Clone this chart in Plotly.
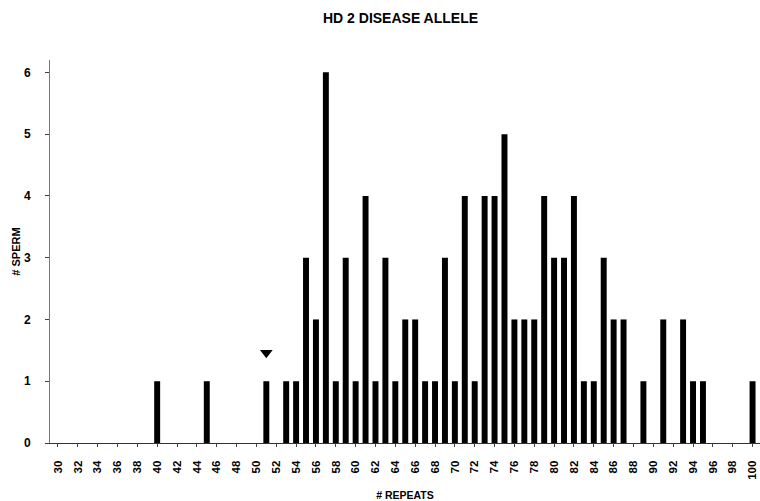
import plotly.graph_objects as go

repeats = [40, 45, 51, 53, 54, 55, 56, 57, 58, 59, 60, 61, 62, 63, 64, 65, 66, 67, 68,
           69, 70, 71, 72, 73, 74, 75, 76, 77, 78, 79, 80, 81, 82, 83, 84, 85, 86, 87,
           89, 91, 93, 94, 95, 100]
sperm = [1, 1, 1, 1, 1, 3, 2, 6, 1, 3, 1, 4, 1, 3, 1, 2, 2, 1, 1,
         3, 1, 4, 1, 4, 4, 5, 2, 2, 2, 4, 3, 3, 4, 1, 1, 3, 2, 2,
         1, 2, 2, 1, 1, 1]
x_ticks = list(range(30, 101, 2))
y_ticks = [0, 1, 2, 3, 4, 5, 6]
marker_x = [51]
marker_y = [1.46]

font = "Liberation Sans, Arial, sans-serif"

fig = go.Figure()
fig.add_trace(go.Bar(x=repeats, y=sperm, width=0.6,
                     marker=dict(color="black", line=dict(width=0))))
fig.add_trace(go.Scatter(x=marker_x, y=marker_y, mode="markers",
                         marker=dict(symbol="triangle-down", size=11, color="black")))

fig.update_layout(
    width=760, height=501,
    margin=dict(l=50, r=0, t=60, b=58, autoexpand=False),
    paper_bgcolor="white", plot_bgcolor="white",
    showlegend=False,
    title=dict(text="<b>HD 2 DISEASE ALLELE</b>", x=0.527, xanchor="center",
               y=0.964, yanchor="middle",
               font=dict(family=font, size=14, color="black")),
    font=dict(family=font, color="black"),
)
fig.update_xaxes(range=[29.2, 100.75], tickmode="array", tickvals=x_ticks,
                 ticktext=[f"<b>{v}</b>" for v in x_ticks], tickangle=-90,
                 tickfont=dict(size=11.5, family=font, color="black"),
                 showgrid=False, zeroline=False, showline=True, automargin=False,
                 ticklabeloverflow="allow",
                 linecolor="#333", linewidth=1, ticks="outside", ticklen=3,
                 tickcolor="#444", ticklabelstandoff=9,
                 title=dict(text="<b># REPEATS</b>", standoff=15,
                            font=dict(size=10.5, family=font, color="black")))
fig.update_yaxes(range=[0, 6.2], tickmode="array", tickvals=y_ticks,
                 ticktext=[f"<b>{v}</b>" for v in y_ticks],
                 tickfont=dict(size=12, family=font, color="black"),
                 showgrid=False, zeroline=False, showline=True, automargin=False,
                 linecolor="#777", linewidth=1, ticks="outside", ticklen=4,
                 tickcolor="#444", ticklabelstandoff=12,
                 title=dict(text="<b># SPERM</b>", standoff=1,
                            font=dict(size=11, family=font, color="black")))

fig.write_html("out.html", config={"displayModeBar": False},
               post_script="document.body.style.margin='0';")
